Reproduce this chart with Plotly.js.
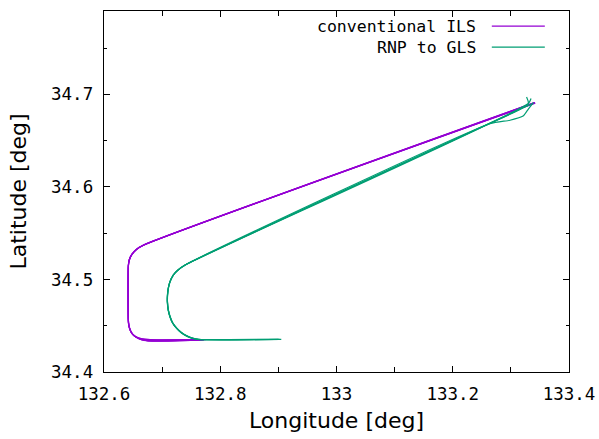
<!DOCTYPE html>
<html>
<head>
<meta charset="utf-8">
<script src="https://cdn.plot.ly/plotly-3.0.1.min.js"></script>
<style>html,body{margin:0;padding:0;background:#fff;}#chart{width:599px;height:439px;}</style>
</head>
<body>
<div id="chart"></div>
<script>
// ---- data (longitude / latitude in degrees) ----
const seriesNames = ["conventional ILS", "RNP to GLS"];
const seriesColors = ["#9400d3", "#009e73"];

// conventional ILS tracks
const ilsLon1 = [133.3415, 132.6677, 132.6560, 132.6480, 132.6435, 132.6420, 132.6418, 132.6420, 132.6440, 132.6490, 132.6560, 132.6680, 132.6850, 132.7000, 132.7750];
const ilsLat1 = [34.6908, 34.5370, 34.5325, 34.5270, 34.5210, 34.5150, 34.4600, 34.4530, 34.4470, 34.4410, 34.4375, 34.4355, 34.4348, 34.4347, 34.4350];
const ilsLon2 = [133.3410, 132.6677, 132.6558, 132.6478, 132.6433, 132.6418, 132.6416, 132.6425, 132.6455, 132.6510, 132.6600, 132.6720, 132.6900, 132.7200, 132.7700];
const ilsLat2 = [34.6912, 34.5371, 34.5326, 34.5271, 34.5211, 34.5150, 34.4580, 34.4510, 34.4445, 34.4395, 34.4360, 34.4342, 34.4337, 34.4340, 34.4345];
const ilsLon3 = [133.3420, 132.6678, 132.6561, 132.6481, 132.6436, 132.6421, 132.6419, 132.6430, 132.6470, 132.6540, 132.6640, 132.6760, 132.6920, 132.7300, 132.7720];
const ilsLat3 = [34.6905, 34.5369, 34.5324, 34.5269, 34.5209, 34.5150, 34.4570, 34.4495, 34.4425, 34.4380, 34.4350, 34.4337, 34.4333, 34.4338, 34.4344];
const ilsLon4 = [133.3405, 132.6676, 132.6559, 132.6479, 132.6434, 132.6419, 132.6417, 132.6418, 132.6432, 132.6470, 132.6540, 132.6640, 132.6800, 132.7000, 132.7650];
const ilsLat4 = [34.6910, 34.5370, 34.5325, 34.5270, 34.5210, 34.5150, 34.4620, 34.4560, 34.4495, 34.4430, 34.4385, 34.4360, 34.4350, 34.4348, 34.4350];
const ilsLon5 = [133.3412, 132.6677, 132.6560, 132.6480, 132.6435, 132.6420, 132.6418, 132.6428, 132.6462, 132.6525, 132.6620, 132.6740, 132.6880, 132.7100, 132.7680];
const ilsLat5 = [34.6907, 34.5370, 34.5325, 34.5270, 34.5210, 34.5150, 34.4575, 34.4500, 34.4435, 34.4388, 34.4355, 34.4340, 34.4336, 34.4337, 34.4343];

// RNP to GLS tracks
const rnpLon1 = [133.3386, 132.7394, 132.7270, 132.7193, 132.7135, 132.7106, 132.7092, 132.7090, 132.7105, 132.7135, 132.7180, 132.7250, 132.7330, 132.7422, 132.7520, 132.7620, 132.9050];
const rnpLat1 = [34.6903, 34.5155, 34.5100, 34.5048, 34.4975, 34.4904, 34.4830, 34.4759, 34.4670, 34.4597, 34.4530, 34.4472, 34.4425, 34.4389, 34.4365, 34.4352, 34.4352];
const rnpLon2 = [133.3347, 133.3300, 132.7396, 132.7272, 132.7195, 132.7137, 132.7108, 132.7094, 132.7092, 132.7107, 132.7137, 132.7182, 132.7252, 132.7332, 132.7424, 132.7522, 132.7622, 132.9000];
const rnpLat2 = [34.6955, 34.6900, 34.5157, 34.5102, 34.5050, 34.4977, 34.4906, 34.4832, 34.4761, 34.4672, 34.4599, 34.4532, 34.4474, 34.4427, 34.4391, 34.4367, 34.4354, 34.4354];
const rnpLon3 = [133.3270, 133.3300, 133.2500, 132.7393, 132.7269, 132.7192, 132.7134, 132.7105, 132.7091, 132.7089, 132.7104, 132.7134, 132.7179, 132.7249, 132.7329, 132.7421, 132.7519, 132.7619, 132.8950];
const rnpLat3 = [34.6970, 34.6895, 34.6646, 34.5154, 34.5099, 34.5047, 34.4974, 34.4903, 34.4829, 34.4758, 34.4669, 34.4596, 34.4529, 34.4471, 34.4424, 34.4388, 34.4364, 34.4351, 34.4351];
const rnpLon4 = [133.3386, 133.3300, 133.3210, 133.2985, 133.2640, 132.7395, 132.7271, 132.7194, 132.7136, 132.7107, 132.7093, 132.7091, 132.7106, 132.7136, 132.7181, 132.7251, 132.7331, 132.7423, 132.7521, 132.7621, 132.9020];
const rnpLat4 = [34.6910, 34.6840, 34.6765, 34.6720, 34.6682, 34.5156, 34.5101, 34.5049, 34.4976, 34.4905, 34.4831, 34.4760, 34.4671, 34.4598, 34.4531, 34.4473, 34.4426, 34.4390, 34.4366, 34.4353, 34.4353];

const xTickVals = [132.6, 132.8, 133.0, 133.2, 133.4];
const xTickText = ["132.6", "132.8", "133", "133.2", "133.4"];
const yTickVals = [34.4, 34.5, 34.6, 34.7];
const yTickText = ["34.4", "34.5", "34.6", "34.7"];

// ---- build traces ----
const ilsTracks = [[ilsLon1, ilsLat1], [ilsLon2, ilsLat2], [ilsLon3, ilsLat3], [ilsLon4, ilsLat4], [ilsLon5, ilsLat5]];
const rnpTracks = [[rnpLon1, rnpLat1], [rnpLon2, rnpLat2], [rnpLon3, rnpLat3], [rnpLon4, rnpLat4]];
const traces = [];
ilsTracks.forEach(function (t) {
  traces.push({x: t[0], y: t[1], type: "scatter", mode: "lines", name: seriesNames[0],
    line: {color: seriesColors[0], width: 1.2, shape: "spline", smoothing: 0.6}, showlegend: false, hoverinfo: "skip"});
});
rnpTracks.forEach(function (t) {
  traces.push({x: t[0], y: t[1], type: "scatter", mode: "lines", name: seriesNames[1],
    line: {color: seriesColors[1], width: 1.2, shape: "spline", smoothing: 0.6}, showlegend: false, hoverinfo: "skip"});
});

const monoFont = {family: "DejaVu Sans Mono", size: 17.5, color: "#000"};
const titleFont = {family: "DejaVu Sans", size: 22, color: "#000"};

// legend drawn gnuplot-style: text then sample line
const legendY = [0.958, 0.900];
const annotations = seriesNames.map(function (n, i) {
  return {text: n, xref: "paper", yref: "paper", x: 0.804, y: legendY[i], xanchor: "right", yanchor: "middle",
    showarrow: false, font: {family: "DejaVu Sans Mono", size: 16.5, color: "#000"}};
});
const shapes = seriesColors.map(function (c, i) {
  return {type: "line", xref: "paper", yref: "paper", x0: 0.834, x1: 0.948, y0: legendY[i], y1: legendY[i],
    line: {color: c, width: 1.2}};
});

const layout = {
  width: 599, height: 439,
  margin: {l: 104, r: 30, t: 11, b: 67},
  paper_bgcolor: "#fff", plot_bgcolor: "#fff",
  showlegend: false,
  xaxis: {
    range: [132.6, 133.4], tickvals: xTickVals, ticktext: xTickText,
    ticks: "inside", ticklen: 6, tickwidth: 1, tickcolor: "#000",
    minor: {ticks: "inside", dtick: 0.1, ticklen: 5, tickwidth: 1, tickcolor: "#000", showgrid: false},
    showline: true, linecolor: "#000", linewidth: 1.3, mirror: "ticks",
    showgrid: false, zeroline: false, tickfont: monoFont, ticklabelstandoff: 6,
    title: {text: "Longitude [deg]", font: titleFont, standoff: 9}
  },
  yaxis: {
    range: [34.4, 34.79], tickvals: yTickVals, ticktext: yTickText,
    ticks: "inside", ticklen: 6, tickwidth: 1, tickcolor: "#000",
    minor: {ticks: "inside", dtick: 0.05, ticklen: 3, tickwidth: 1, tickcolor: "#000", showgrid: false},
    showline: true, linecolor: "#000", linewidth: 1.3, mirror: "ticks",
    showgrid: false, zeroline: false, tickfont: monoFont, ticklabelstandoff: 6,
    title: {text: "Latitude [deg]", font: titleFont, standoff: 18}
  },
  annotations: annotations,
  shapes: shapes
};

Plotly.newPlot("chart", traces, layout, {staticPlot: true, displayModeBar: false});
</script>
</body>
</html>
